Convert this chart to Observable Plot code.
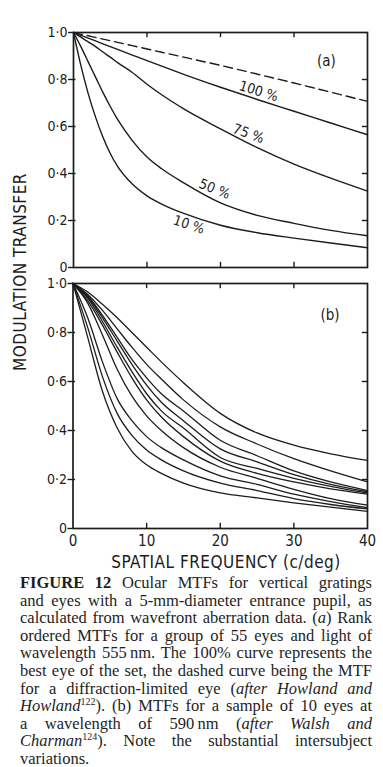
<!DOCTYPE html>
<html>
<head>
<meta charset="utf-8">
<script src="https://cdn.jsdelivr.net/npm/d3@7"></script>
<script src="https://cdn.jsdelivr.net/npm/@observablehq/plot@0.6"></script>
<style>
  html, body { margin: 0; padding: 0; background: #fff; }
  #wrap { position: relative; width: 383px; height: 767px; background: #fff; overflow: hidden; }
  .panel { position: absolute; left: 0; }
  .ttl { position: absolute; font-family: "DejaVu Sans Condensed", "DejaVu Sans", sans-serif; font-stretch: condensed;
         font-size: 17px; line-height: 17px; color: #1c1c1c; white-space: nowrap; letter-spacing: 0.5px; }
  #cap { position: absolute; left: 20px; top: 574px; width: 352px; font-family: "Liberation Serif", "Times New Roman", serif;
         font-size: 16.5px; line-height: 17.6px; color: #1e1e1e; }
  #cap .j { text-align: justify; text-align-last: justify; }
  #cap sup { font-size: 10px; line-height: 0; vertical-align: 6px; }
</style>
</head>
<body>
<div id="wrap">
  <div id="pa" class="panel" style="top:0"></div>
  <div id="pb" class="panel" style="top:275px"></div>
  <div class="ttl" style="left:20px; top:272px; transform: translate(-50%,-50%) rotate(-90deg);">MODULATION TRANSFER</div>
  <div class="ttl" style="left:226px; top:562px; transform: translate(-50%,-50%);">SPATIAL FREQUENCY (c/deg)</div>
  <div id="cap">
    <div class="j"><b>FIGURE 12</b> Ocular MTFs for vertical gratings</div>
    <div class="j">and eyes with a 5-mm-diameter entrance pupil, as</div>
    <div class="j">calculated from wavefront aberration data. (<i>a</i>) Rank</div>
    <div class="j">ordered MTFs for a group of 55 eyes and light of</div>
    <div class="j">wavelength 555&#8239;nm. The 100% curve represents the</div>
    <div class="j">best eye of the set, the dashed curve being the MTF</div>
    <div class="j">for a diffraction-limited eye (<i>after Howland and</i></div>
    <div class="j"><i>Howland</i><sup>122</sup>). (b) MTFs for a sample of 10 eyes at</div>
    <div class="j">a wavelength of 590&#8239;nm (<i>after Walsh and</i></div>
    <div class="j"><i>Charman</i><sup>124</sup>). Note the substantial intersubject</div>
    <div>variations.</div>
  </div>
</div>
<script>
// ---------- data ----------
const yTicks = [0, 0.2, 0.4, 0.6, 0.8, 1.0];
const yTicksInner = [0.2, 0.4, 0.6, 0.8];
const xTicks = [0, 10, 20, 30, 40];
const xTicksInner = [10, 20, 30];

// panel (a): rank-ordered MTFs, 55 eyes, 555 nm
const freqA = [0, 1, 2, 3, 4, 5, 6, 8, 10, 12, 15, 20, 25, 30, 35, 40];
const mtfDiffraction = [1, 0.993, 0.986, 0.979, 0.972, 0.965, 0.958, 0.944, 0.93, 0.916, 0.895, 0.86, 0.823, 0.785, 0.746, 0.707];
const mtf100 = [1, 0.988, 0.976, 0.964, 0.952, 0.94, 0.928, 0.904, 0.88, 0.857, 0.822, 0.767, 0.715, 0.665, 0.615, 0.565];
const mtf75  = [1, 0.98, 0.96, 0.94, 0.917, 0.895, 0.872, 0.83, 0.78, 0.735, 0.675, 0.59, 0.51, 0.44, 0.38, 0.325];
const mtf50  = [1, 0.94, 0.875, 0.81, 0.745, 0.685, 0.63, 0.54, 0.47, 0.42, 0.36, 0.275, 0.222, 0.188, 0.158, 0.135];
const mtf10  = [1, 0.86, 0.74, 0.64, 0.555, 0.485, 0.43, 0.355, 0.305, 0.27, 0.23, 0.18, 0.148, 0.125, 0.104, 0.084];
const curveLabelsA = ["100 %", "75 %", "50 %", "10 %"];
const curveLabelFreqA = [25.2, 23.8, 19.2, 15.7];
const curveLabelMtfA = [0.75, 0.569, 0.334, 0.182];
const curveLabelAngleA = [17, 20, 22, 18];

// panel (b): 10 eyes, 590 nm
const freqB = [0, 2, 4, 6, 8, 10, 12, 15, 20, 25, 30, 35, 40];
const eye1  = [1, 0.965, 0.915, 0.86, 0.80, 0.74, 0.68, 0.595, 0.47, 0.39, 0.34, 0.305, 0.278];
const eye2  = [1, 0.955, 0.89, 0.815, 0.74, 0.67, 0.61, 0.525, 0.415, 0.345, 0.285, 0.235, 0.19];
const eye3  = [1, 0.95, 0.87, 0.78, 0.69, 0.615, 0.55, 0.48, 0.36, 0.297, 0.235, 0.19, 0.155];
const eye4  = [1, 0.945, 0.86, 0.765, 0.67, 0.585, 0.515, 0.44, 0.325, 0.272, 0.22, 0.18, 0.15];
const eye5  = [1, 0.94, 0.845, 0.74, 0.64, 0.55, 0.48, 0.41, 0.29, 0.245, 0.205, 0.172, 0.145];
const eye6  = [1, 0.93, 0.83, 0.72, 0.615, 0.525, 0.455, 0.375, 0.275, 0.225, 0.19, 0.162, 0.14];
const eye7  = [1, 0.92, 0.79, 0.65, 0.54, 0.46, 0.40, 0.33, 0.25, 0.205, 0.16, 0.122, 0.095];
const eye8  = [1, 0.86, 0.68, 0.53, 0.44, 0.375, 0.33, 0.28, 0.215, 0.18, 0.14, 0.11, 0.085];
const eye9  = [1, 0.82, 0.62, 0.47, 0.38, 0.32, 0.28, 0.235, 0.185, 0.155, 0.122, 0.098, 0.08];
const eye10 = [1, 0.78, 0.56, 0.41, 0.315, 0.26, 0.225, 0.185, 0.145, 0.125, 0.105, 0.087, 0.07];

// ---------- build tables ----------
const ink = "#1c1c1c";
const fmt = d => d === 0 ? "0" : d.toFixed(1).replace(".", "\u00B7");
const seriesA = [["100", mtf100], ["75", mtf75], ["50", mtf50], ["10", mtf10]];
const rowsA = seriesA.flatMap(([k, vals]) => vals.map((v, i) => ({k, f: freqA[i], v})));
const rowsDiff = mtfDiffraction.map((v, i) => ({f: freqA[i], v}));
const labelRows = curveLabelsA.map((t, i) => ({t, f: curveLabelFreqA[i], v: curveLabelMtfA[i], a: curveLabelAngleA[i]}));
const eyes = [eye1, eye2, eye3, eye4, eye5, eye6, eye7, eye8, eye9, eye10];
const rowsB = eyes.flatMap((vals, k) => vals.map((v, i) => ({k, f: freqB[i], v})));

const font = "'DejaVu Sans Condensed', 'DejaVu Sans', sans-serif";
const baseStyle = {fontFamily: font, fontStretch: "condensed", fontSize: "14px", color: ink, background: "transparent", overflow: "visible"};

function frameMarks(tickH, tickW) {
  return [
    Plot.frame({stroke: ink, strokeWidth: 1.7}),
    Plot.ruleX(xTicksInner, {y1: 0, y2: tickH, stroke: ink, strokeWidth: 1.4}),
    Plot.ruleX(xTicksInner, {y1: 1, y2: 1 - tickH, stroke: ink, strokeWidth: 1.4}),
    Plot.ruleY(yTicksInner, {x1: 40, x2: 40 - tickW, stroke: ink, strokeWidth: 1.4}),
    Plot.ruleY(yTicksInner, {x1: 0, x2: tickW * 0.5, stroke: ink, strokeWidth: 1.4}),
    Plot.axisY(yTicks, {anchor: "left", tickSize: 5, tickPadding: 1, tickFormat: fmt, label: null, fontSize: 14, stroke: ink, strokeWidth: 1.4})
  ];
}

const panelA = Plot.plot({
  width: 383, height: 275,
  marginLeft: 73, marginRight: 16, marginTop: 32, marginBottom: 8,
  x: {domain: [0, 40], axis: null},
  y: {domain: [0, 1]},
  style: baseStyle,
  marks: [
    ...frameMarks(0.022, 0.7),
    Plot.line(rowsDiff, {x: "f", y: "v", stroke: ink, strokeWidth: 1.4, strokeDasharray: "9,5", curve: "monotone-x"}),
    Plot.line(rowsA, {x: "f", y: "v", z: "k", stroke: ink, strokeWidth: 1.4, curve: "monotone-x"}),
    Plot.text(labelRows, {x: "f", y: "v", text: "t", rotate: "a", fontSize: 14, fill: ink}),
    Plot.text(["(a)"], {x: 34.4, y: 0.878, text: d => d, fontSize: 15, fill: ink})
  ]
});
document.getElementById("pa").appendChild(panelA);

const panelB = Plot.plot({
  width: 383, height: 280,
  marginLeft: 72.5, marginRight: 16, marginTop: 8, marginBottom: 27,
  x: {domain: [0, 40]},
  y: {domain: [0, 1]},
  style: baseStyle,
  marks: [
    ...frameMarks(0.021, 0.7),
    Plot.axisX(xTicks, {anchor: "bottom", tickSize: 0, tickPadding: 7, label: null, fontSize: 15}),
    Plot.line(rowsB, {x: "f", y: "v", z: "k", stroke: ink, strokeWidth: 1.3, curve: "monotone-x"}),
    Plot.text(["(b)"], {x: 34.9, y: 0.869, text: d => d, fontSize: 15, fill: ink})
  ]
});
document.getElementById("pb").appendChild(panelB);
</script>
</body>
</html>
